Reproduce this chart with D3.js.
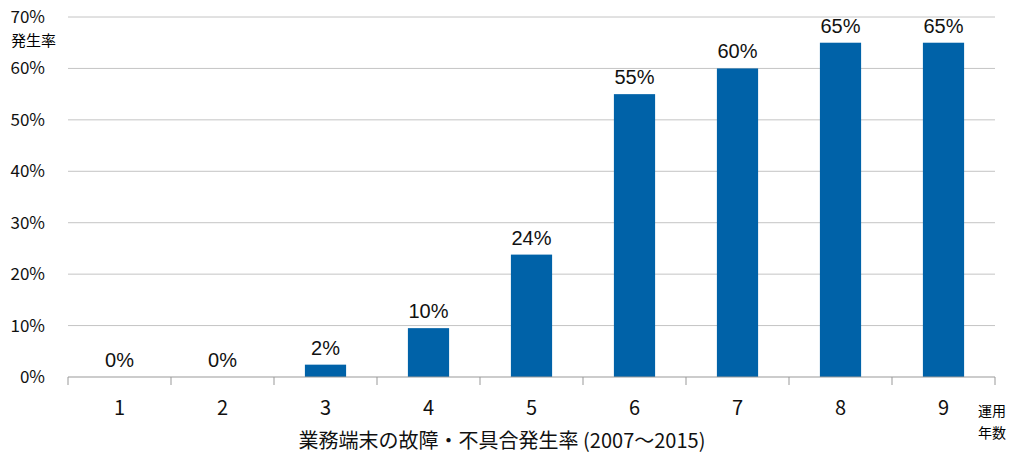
<!DOCTYPE html>
<html><head><meta charset="utf-8">
<script src="https://cdn.jsdelivr.net/npm/d3@7"></script>
<style>body{margin:0;background:#fff}text{font-family:"Noto Sans CJK JP","Noto Sans",sans-serif}</style>
</head><body>
<svg id="chart" width="1024" height="470"></svg>
<script>
let years = ['1', '2', '3', '4', '5', '6', '7', '8', '9']
let rates = [0, 0, 2.4, 9.5, 23.8, 55, 60, 65, 65]
let rateLabels = ['0%', '0%', '2%', '10%', '24%', '55%', '60%', '65%', '65%']
let yTicks = [0, 10, 20, 30, 40, 50, 60, 70]

let svg = d3.select('#chart')
let plotLeft = 68, plotRight = 995, plotTop = 17, plotBottom = 377

let x = d3.scaleBand().domain(years).range([plotLeft, plotRight]).paddingInner(0.6).paddingOuter(0.3)
let xb = d3.scaleBand().domain(years).range([plotLeft, plotRight])
let y = d3.scaleLinear().domain([0, 70]).range([plotBottom, plotTop])

svg.append('g').selectAll('line').data(yTicks.slice(1)).enter().append('line')
  .attr('x1', plotLeft).attr('x2', plotRight)
  .attr('y1', d => y(d)).attr('y2', d => y(d))
  .attr('stroke', '#c4c4c4').attr('stroke-width', 1)

svg.append('g').selectAll('text').data(yTicks).enter().append('text')
  .attr('x', 45).attr('y', d => y(d)).attr('dy', '0.35em')
  .attr('text-anchor', 'end').attr('font-size', 17).attr('fill', '#111')
  .text(d => d + '%')
svg.append('text').attr('x', 11).attr('y', 46).attr('font-size', 15).text('発生率')

svg.append('g').selectAll('rect').data(rates).enter().append('rect')
  .attr('x', (d, i) => x(years[i])).attr('width', x.bandwidth())
  .attr('y', d => y(d)).attr('height', d => plotBottom - y(d))
  .attr('fill', '#0062a8')

svg.append('g').selectAll('text').data(rates).enter().append('text')
  .attr('x', (d, i) => x(years[i]) + x.bandwidth() / 2)
  .attr('y', d => y(d) - 10)
  .attr('text-anchor', 'middle').attr('font-size', 20).attr('fill', '#111')
  .style('font-family', '"Liberation Sans",Arial,sans-serif')
  .text((d, i) => rateLabels[i])

let axis = svg.append('g')
axis.append('line').attr('x1', plotLeft).attr('x2', plotRight).attr('y1', plotBottom).attr('y2', plotBottom).attr('stroke', '#999')
axis.selectAll('.tk').data(years.concat(['end'])).enter().append('line')
  .attr('x1', (d, i) => plotLeft + i * xb.bandwidth()).attr('x2', (d, i) => plotLeft + i * xb.bandwidth())
  .attr('y1', plotBottom).attr('y2', plotBottom + 8).attr('stroke', '#999')
axis.selectAll('.lb').data(years).enter().append('text')
  .attr('x', d => xb(d) + xb.bandwidth() / 2).attr('y', 415)
  .attr('text-anchor', 'middle').attr('font-size', 20).attr('fill', '#111').text(d => d)

svg.append('text').attr('x', 502).attr('y', 448).attr('text-anchor', 'middle')
  .attr('font-size', 20).attr('fill', '#111').text('業務端末の故障・不具合発生率 (2007〜2015)')
svg.append('text').attr('x', 978).attr('y', 416).attr('font-size', 14).text('運用')
svg.append('text').attr('x', 978).attr('y', 438).attr('font-size', 14).text('年数')
</script>
</body></html>
